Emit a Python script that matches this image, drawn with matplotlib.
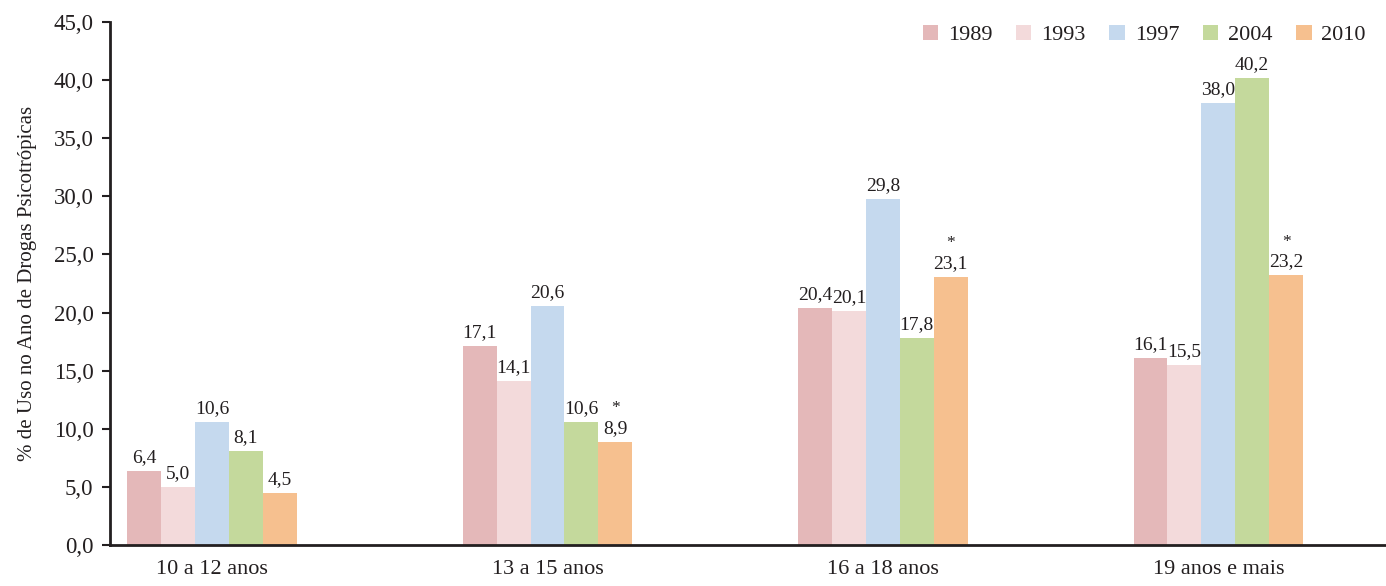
import matplotlib
matplotlib.use("Agg")
import matplotlib.pyplot as plt
import numpy as np

categories = ["10 a 12 anos", "13 a 15 anos", "16 a 18 anos", "19 anos e mais"]
years = ["1989", "1993", "1997", "2004", "2010"]
values = {
    "1989": [6.4, 17.1, 20.4, 16.1],
    "1993": [5.0, 14.1, 20.1, 15.5],
    "1997": [10.6, 20.6, 29.8, 38.0],
    "2004": [8.1, 10.6, 17.8, 40.2],
    "2010": [4.5, 8.9, 23.1, 23.2],
}
starred = {"2010": [False, True, True, True]}
colors = ["#e4b8b9", "#f3dadb", "#c5d9ee", "#c4d99c", "#f6c08f"]
yticks = [0, 5, 10, 15, 20, 25, 30, 35, 40, 45]

plt.rcParams['font.family'] = ['Liberation Serif', 'DejaVu Serif']
tc = "#231f20"

fig = plt.figure(figsize=(13.86, 5.86), dpi=100)
ax = fig.add_axes([0.0794, 0.07, 0.9206, 0.8925])

x = np.arange(len(categories))
w = 0.101
for i, (yr, c) in enumerate(zip(years, colors)):
    pos = x + (i - 2) * w
    ax.bar(pos, values[yr], width=w, color=c, label=yr, zorder=2)
    for j, (p, v) in enumerate(zip(pos, values[yr])):
        ax.text(p, v + 1.15, f"{v:.1f}".replace(".", ","), ha="center", va="center",
                fontsize=14, color=tc)
        if yr in starred and starred[yr][j]:
            ax.text(p, v + 2.9, "*", ha="center", va="center", fontsize=12.5, color=tc)

ax.set_xlim(-0.304, 3.5)
ax.set_ylim(0, 45)
ax.set_yticks(yticks)
ax.set_yticklabels([f"{t:.1f}".replace(".", ",") for t in yticks], fontsize=16.5, color=tc)
ax.set_xticks(x)
ax.set_xticklabels(categories, fontsize=16, color=tc)
ax.tick_params(axis="x", length=0, pad=11)
ax.tick_params(axis="y", length=6, width=1.5, pad=6, color=tc)
for s in ["top", "right"]:
    ax.spines[s].set_visible(False)
for s in ["left", "bottom"]:
    ax.spines[s].set_linewidth(2)
    ax.spines[s].set_color(tc)
ax.set_ylabel("% de Uso no Ano de Drogas Psicotrópicas", fontsize=15, color=tc, labelpad=12)

leg = ax.legend(loc="upper right", bbox_to_anchor=(1.0, 1.033), ncol=5, frameon=False,
                fontsize=16, handlelength=0.7, handleheight=0.7, handletextpad=0.45,
                columnspacing=1.05)
for t in leg.get_texts():
    t.set_color(tc)

fig.savefig("out.png", dpi=100)
